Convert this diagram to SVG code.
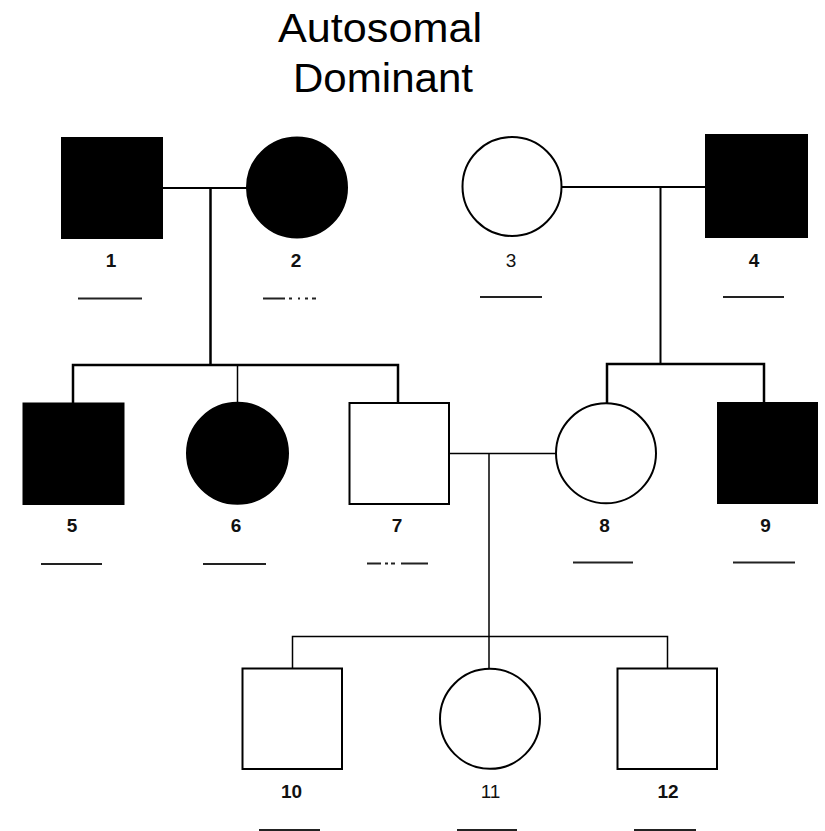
<svg xmlns="http://www.w3.org/2000/svg" width="825" height="831" viewBox="0 0 825 831">
<style>
.title{font-family:"Liberation Sans",Arial,sans-serif;font-size:41px;fill:#000}
.lbl{font-family:"Liberation Sans",Arial,sans-serif;font-size:19px;font-weight:bold;fill:#111;text-anchor:middle}
.lr{font-weight:normal}
.aff{fill:#000;stroke:#000;stroke-width:2}
.un{fill:#fff;stroke:#000;stroke-width:2}
.ln{stroke:#000;fill:none}
.ul{stroke:#222;stroke-width:2;fill:none}
</style>
<rect width="825" height="831" fill="#fff"/>
<g id="title">
<text class="title" x="278" y="42" textLength="204" lengthAdjust="spacingAndGlyphs">Autosomal</text>
<text class="title" x="293" y="92" textLength="180" lengthAdjust="spacingAndGlyphs">Dominant</text>
</g>
<g id="connectors">
<line class="ln" stroke-width="2" x1="162" y1="188" x2="247" y2="188"/>
<line class="ln" stroke-width="2.5" x1="210.5" y1="188" x2="210.5" y2="365"/>
<path class="ln" stroke-width="2.5" d="M73 404 V365 H398 V403"/>
<line class="ln" stroke-width="1.5" x1="237.5" y1="365" x2="237.5" y2="403"/>
<line class="ln" stroke-width="2" x1="562" y1="187" x2="705" y2="187"/>
<line class="ln" stroke-width="2" x1="660.5" y1="187" x2="660.5" y2="364"/>
<path class="ln" stroke-width="2.5" d="M607 403 V364 H764 V402"/>
<line class="ln" stroke-width="1.5" x1="449" y1="453.5" x2="556" y2="453.5"/>
<line class="ln" stroke-width="1.5" x1="489" y1="453.5" x2="489" y2="636.5"/>
<path class="ln" stroke-width="1.5" d="M292.5 668 V636.5 H667.5 V668"/>
<line class="ln" stroke-width="1.5" x1="489" y1="636.5" x2="489" y2="668"/>
</g>
<g id="node1">
<rect class="aff" x="62" y="138" width="100" height="100"/>
<text class="lbl" x="111" y="267">1</text>
<line class="ul" x1="78" y1="298.5" x2="142" y2="298.5"/>
</g>
<g id="node2">
<circle class="aff" cx="297" cy="187.5" r="50"/>
<text class="lbl" x="296" y="267">2</text>
<path class="ul" d="M263 298.5 H285 M289 298.5 H292 M298 298.5 H300 M305 298.5 H308 M312 298.5 H316"/>
</g>
<g id="node3">
<circle class="un" cx="512" cy="186.5" r="49.5"/>
<text class="lbl lr" x="511" y="267">3</text>
<line class="ul" x1="480" y1="297" x2="542" y2="297"/>
</g>
<g id="node4">
<rect class="aff" x="706" y="135" width="101" height="102"/>
<text class="lbl" x="754" y="267">4</text>
<line class="ul" x1="723" y1="297" x2="784" y2="297"/>
</g>
<g id="node5">
<rect class="aff" x="23.5" y="403.5" width="100" height="100.5"/>
<text class="lbl" x="72" y="532">5</text>
<line class="ul" x1="41" y1="564" x2="102" y2="564"/>
</g>
<g id="node6">
<circle class="aff" cx="237.5" cy="453.3" r="50.5"/>
<text class="lbl" x="236" y="532">6</text>
<line class="ul" x1="203" y1="564" x2="266" y2="564"/>
</g>
<g id="node7">
<rect class="un" x="349.5" y="403" width="99.5" height="101" stroke-width="2.5"/>
<text class="lbl" x="397" y="532">7</text>
<path class="ul" d="M367 563.5 H381 M385 563.5 H388 M391 563.5 H395 M401 563.5 H428"/>
</g>
<g id="node8">
<circle class="un" cx="606" cy="453.3" r="50"/>
<text class="lbl" x="604.5" y="532">8</text>
<line class="ul" x1="573" y1="562.5" x2="633" y2="562.5"/>
</g>
<g id="node9">
<rect class="aff" x="718" y="403" width="99" height="100"/>
<text class="lbl" x="765.5" y="532">9</text>
<line class="ul" x1="733" y1="562.5" x2="795" y2="562.5"/>
</g>
<g id="node10">
<rect class="un" x="242.5" y="668.5" width="99.5" height="100.5"/>
<text class="lbl" x="291.5" y="798">10</text>
<line class="ul" x1="259" y1="830" x2="320" y2="830"/>
</g>
<g id="node11">
<circle class="un" cx="490" cy="718.8" r="50"/>
<text class="lbl lr" x="490.5" y="798">11</text>
<line class="ul" x1="457" y1="830" x2="517" y2="830"/>
</g>
<g id="node12">
<rect class="un" x="617.5" y="668.5" width="99.5" height="100.5" stroke-width="2.2"/>
<text class="lbl" x="668" y="798">12</text>
<line class="ul" x1="634" y1="830" x2="696" y2="830"/>
</g>
</svg>
